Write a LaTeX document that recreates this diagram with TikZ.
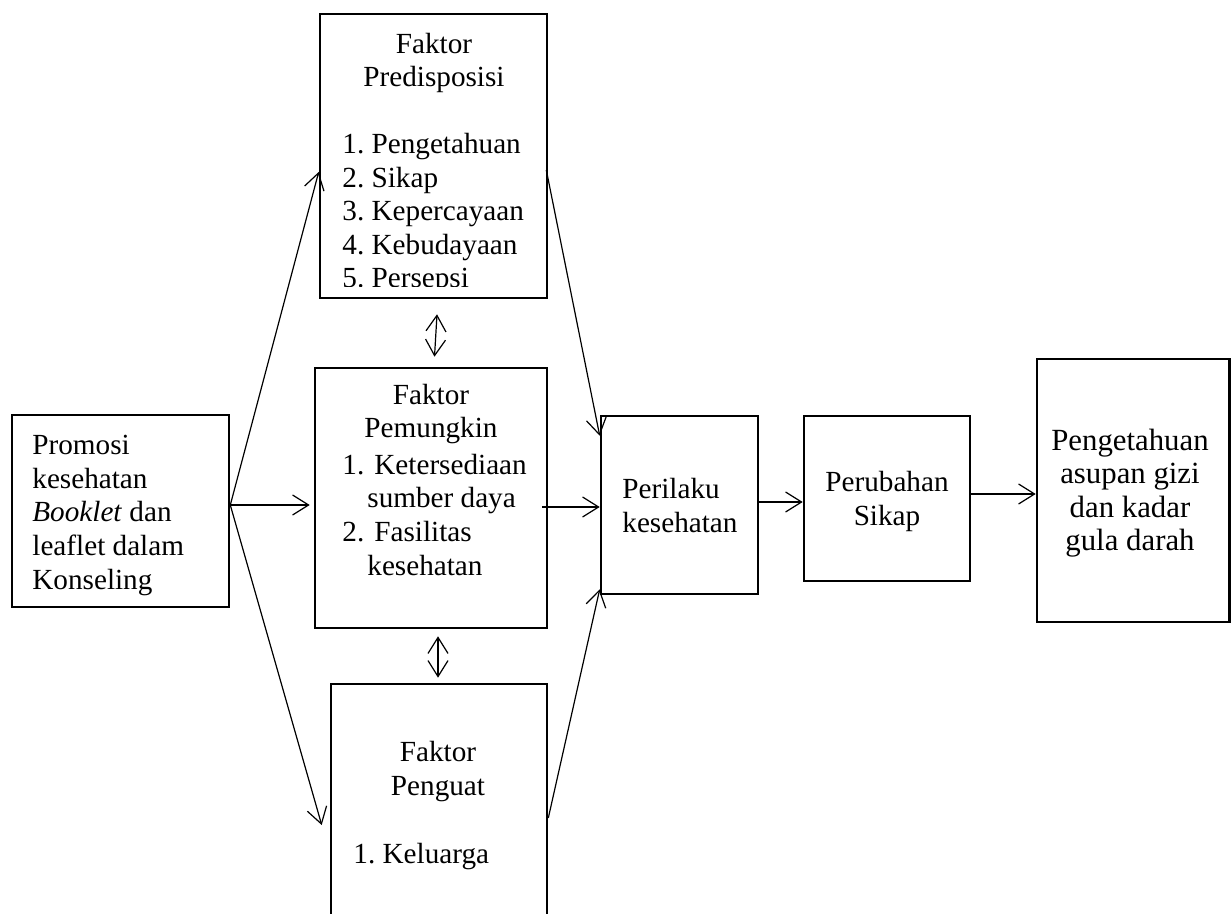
\documentclass[tikz,border=0pt]{standalone}
\usepackage{fontspec}
\setmainfont{Liberation Serif}
\frenchspacing
\usetikzlibrary{arrows.meta,fit}
\tikzset{
  box/.style={draw, line width=1.3pt, inner sep=0pt},
  txt/.style={inner sep=0pt, font=\fontsize{14.6}{16.8}\selectfont\frenchspacing},
  bigtxt/.style={inner sep=0pt, font=\fontsize{15.4}{16.8}\selectfont\frenchspacing},
  conn/.style={line width=0.6pt, -{Straight Barb[length=8pt,width=10pt]}},
  biconn/.style={line width=0.6pt, {Straight Barb[length=8pt,width=10pt]}-{Straight Barb[length=8pt,width=10pt]}},
}
\newcommand{\numlbl}[1]{\makebox[16pt][l]{#1}}
\begin{document}
\begin{tikzpicture}[x=0.5pt,y=-0.5pt]
\useasboundingbox (0,0) rectangle (1232,914);
\clip (0,0) rectangle (1232,914);

% boxes
\node[box, fit={(12,415) (229,607)}] (promosi) {};
\node[box, fit={(320,14) (547,298)}] (pred) {};
\node[box, fit={(315,368) (547,628)}] (pem) {};
\node[box, fit={(331,684) (547,940)}] (peng) {};
\node[box, fit={(601,416) (758,594)}] (peri) {};
\node[box, fit={(804,416) (970,581)}] (perub) {};
\node[box, fit={(1037,359) (1229.5,622)}] (hasil) {};

% texts (base anchor = baseline of the last line)
\node[txt, anchor=base west, align=left] (tpromosi) at (32,589)
  {Promosi\\kesehatan\\\textit{Booklet} dan\\leaflet dalam\\Konseling};

\begin{scope}
  \clip (321,15) rectangle (546,287);
  \node[txt, anchor=base, align=center] (tpred) at (434,87) {Faktor\\Predisposisi};
  \node[txt, anchor=base west, align=left] (lpred) at (342,288)
    {1. Pengetahuan\\2. Sikap\\3. Kepercayaan\\4. Kebudayaan\\5. Persepsi};
\end{scope}

\node[txt, anchor=base, align=center] (tpem) at (431,438) {Faktor\\Pemungkin};
\node[txt, anchor=base west, align=left] (lpem) at (342,575)
  {\numlbl{1.}Ketersediaan\\\hspace*{12.5pt}sumber daya\\\numlbl{2.}Fasilitas\\\hspace*{12.5pt}kesehatan};

\node[txt, anchor=base, align=center] (tpeng) at (438,795) {Faktor\\Penguat};
\node[txt, anchor=base west] (lpeng) at (353,863) {1. Keluarga};

\node[txt, anchor=base west, align=left] (tperi) at (622,532) {Perilaku\\kesehatan};
\node[txt, anchor=base, align=center] (tperub) at (887,525) {Perubahan\\Sikap};
\node[bigtxt, anchor=base, align=center] (thasil) at (1130,551)
  {Pengetahuan\\asupan gizi\\dan kadar\\gula darah};

% connectors
\draw[conn] ([yshift=3pt]promosi.east) -- ([yshift=-8pt]pred.west);
\draw[conn] ([yshift=3pt]promosi.east) -- ([xshift=-2pt,yshift=-3.5pt]pem.west);
\draw[conn] ([yshift=3pt]promosi.east) -- ([xshift=-4pt,yshift=-6.5pt]peng.west);

\draw[conn] ([xshift=-1pt,yshift=-7pt]pred.east) -- ([yshift=-10.5pt]peri.north west);
\draw[conn] ([xshift=-3pt,yshift=-4.5pt]pem.east) -- ([yshift=-1pt]peri.west);
\draw[conn] ([yshift=-3pt]peng.east) -- ([yshift=3pt]peri.south west);

\draw[conn] ([yshift=1.5pt]peri.east) -- ([yshift=-1.75pt]perub.west);
\draw[conn] ([yshift=2.25pt]perub.east) -- ([yshift=-1.75pt]hasil.west);

\draw[biconn] ([xshift=1.75pt,yshift=-7.5pt]pred.south) -- ([xshift=1.75pt,yshift=5pt]pem.north);
\draw[biconn] ([xshift=3.5pt,yshift=-3.5pt]pem.south) -- ([xshift=-0.5pt,yshift=2.5pt]peng.north);
\end{tikzpicture}
\end{document}
